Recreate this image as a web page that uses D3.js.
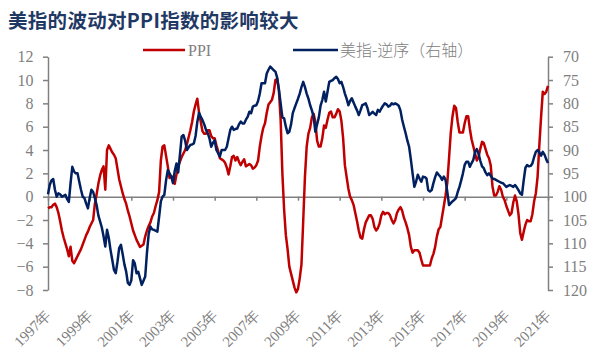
<!DOCTYPE html>
<html><head><meta charset="utf-8">
<script src="https://cdn.jsdelivr.net/npm/d3@7"></script>
<style>body{margin:0;background:#fff}svg{display:block}</style>
</head><body>
<svg id="c" width="591" height="354"></svg>
<script>
// ---- data (monthly, Aug 1997 .. Aug 2021) ----
const startYear = 1997, startMonth = 8;
const ppi = [
 -1.0,-0.9,-0.9,-0.7,-0.6,
 -0.9,-1.4,-2.1,-2.9,-3.5,-4.0,-4.5,-5.1,-4.3,-5.5,-5.7,-5.4,
 -5.1,-4.8,-4.5,-4.1,-3.7,-3.3,-3.0,-2.6,-2.3,-2.0,-0.6,0.2,
 1.1,1.8,2.3,2.6,0.6,4.0,4.4,4.1,3.8,3.6,3.3,2.4,
 1.5,0.9,0.3,-0.2,-0.6,-1.2,-1.7,-2.3,-2.9,-3.3,-3.7,-4.0,
 -4.3,-4.2,-4.1,-3.4,-2.9,-2.5,-2.2,-1.7,-1.4,-0.8,-0.3,0.4,
 3.1,4.3,4.4,3.5,2.6,1.6,1.7,1.7,1.1,1.9,2.6,3.0,
 3.4,3.7,4.0,4.5,5.1,5.7,6.4,7.3,7.9,8.4,7.2,6.4,
 5.6,5.4,5.4,5.7,5.7,5.2,5.0,5.0,4.4,3.9,3.3,3.2,
 3.1,2.9,2.5,1.9,2.6,3.4,3.5,3.1,3.4,3.0,2.7,3.0,
 3.2,2.6,2.7,2.8,2.7,2.4,2.5,2.7,3.1,4.3,5.2,5.9,
 6.3,7.2,7.9,8.1,8.3,8.9,10.0,10.1,9.1,6.6,2.0,-1.1,
 -3.3,-4.5,-6.0,-6.6,-7.2,-7.8,-8.2,-7.9,-7.0,-5.8,-2.1,1.7,
 4.3,5.4,5.9,6.8,7.1,6.4,4.8,4.3,4.3,5.0,6.1,5.9,
 6.6,7.2,7.3,6.8,6.8,7.1,7.5,7.3,6.5,5.0,2.7,1.7,
 0.7,0.0,-0.3,-0.7,-1.4,-2.1,-2.9,-3.5,-3.6,-2.8,-2.2,-1.9,
 -1.6,-1.6,-1.9,-2.6,-2.9,-2.7,-2.3,-1.6,-1.3,-1.5,-1.4,-1.4,
 -1.6,-2.0,-2.3,-2.0,-1.4,-1.1,-0.9,-1.2,-1.8,-2.2,-2.7,-3.3,
 -4.3,-4.8,-4.6,-4.6,-4.6,-4.8,-5.4,-5.9,-5.9,-5.9,-5.9,-5.9,
 -5.3,-4.9,-4.3,-3.4,-2.8,-2.6,-1.7,-0.8,0.1,1.2,3.3,5.5,
 6.9,7.8,7.6,6.4,5.5,5.5,5.5,6.3,6.9,6.9,5.8,4.9,
 4.3,3.7,3.1,3.4,4.1,4.7,4.6,4.1,3.6,3.3,2.7,0.9,
 0.1,0.1,0.4,0.9,0.6,0.0,-0.3,-0.8,-1.2,-1.6,-1.4,-0.5,
 0.1,-0.4,-1.5,-3.1,-3.7,-3.0,-2.4,-2.0,-2.1,-2.1,-1.5,-0.4,
 0.3,1.7,4.4,6.8,9.0,8.8,9.0,9.5
];
const usdIndex = [
 99.5,97.5,96.5,96.2,98.5,
 100.0,99.3,99.5,100.0,99.8,99.6,100.5,101.1,97.1,93.6,94.6,95.0,
 95.0,96.8,98.5,100.0,100.3,101.5,102.5,100.3,98.5,99.0,100.3,101.8,
 104.0,105.3,106.6,108.5,110.7,107.1,108.8,111.4,113.5,115.7,116.4,114.0,
 111.0,110.3,112.3,114.5,116.0,118.5,118.9,117.9,113.6,114.3,116.4,116.1,
 117.5,118.9,118.0,117.1,112.0,108.0,106.4,107.0,107.1,107.3,107.5,104.3,
 101.0,100.0,99.6,96.5,94.3,95.0,95.7,97.1,94.5,92.9,94.8,91.0,
 87.1,86.8,88.0,90.0,89.4,88.9,88.8,88.6,87.0,84.0,82.0,82.9,
 83.6,84.5,85.7,86.4,87.5,89.3,88.5,87.9,90.0,90.7,91.4,90.0,
 90.0,90.0,89.3,87.5,85.7,85.0,85.7,85.5,85.4,84.5,83.9,84.3,
 84.3,83.5,82.9,81.8,82.1,80.7,80.5,80.4,79.5,77.9,75.7,75.7,
 75.7,73.6,72.8,72.1,72.5,72.9,73.2,74.5,77.0,80.0,83.0,83.2,
 85.0,86.4,86.1,84.5,82.1,81.0,80.0,79.0,77.9,76.5,75.4,76.5,
 77.9,79.0,80.4,81.5,82.9,86.1,84.5,83.0,80.5,79.3,77.5,79.6,
 77.5,75.4,75.2,75.0,74.6,74.3,74.8,75.7,75.4,76.5,77.9,79.0,
 80.4,79.5,78.9,79.8,80.7,81.5,82.5,81.5,80.4,80.2,80.0,81.0,
 82.5,82.2,81.8,82.2,82.5,81.4,81.8,81.1,80.5,80.0,80.2,80.7,
 80.5,80.0,80.2,80.0,80.2,80.5,81.5,83.5,85.0,86.4,88.0,89.3,
 92.0,95.0,97.9,96.8,95.3,96.1,96.8,95.7,95.8,96.1,98.6,98.9,
 98.6,97.1,95.8,94.8,95.3,95.7,96.4,95.7,96.4,99.0,101.8,101.4,
 101.0,100.7,100.3,99.0,97.9,96.5,95.0,93.2,92.5,92.5,93.6,92.8,
 92.1,90.4,89.8,90.8,92.3,93.5,93.9,94.8,95.4,95.0,95.5,96.1,
 96.2,96.4,96.6,96.8,97.0,97.1,97.5,97.9,97.7,97.5,97.7,97.9,
 97.5,98.0,98.6,99.3,99.6,96.5,93.8,93.2,93.5,93.4,92.9,91.5,
 90.4,90.0,90.5,91.2,90.4,91.0,92.0,92.8
];
const xTickLabels = ["1997年","1999年","2001年","2003年","2005年","2007年","2009年","2011年","2013年","2015年","2017年","2019年","2021年"];
const leftTicks = [-8,-6,-4,-2,0,2,4,6,8,10,12];
const rightTicks = [70,75,80,85,90,95,100,105,110,115,120];
const title = "美指的波动对PPI指数的影响较大";
const seriesNames = ["PPI", "美指-逆序（右轴）"];

// ---- chart ----
const svg = d3.select("#c");
const gray = "#808080";
const red = "#C00000", navy = "#002060";
const n = ppi.length;
const x = d3.scaleLinear().domain([0, n - 1]).range([48, 548]);
const yL = d3.scaleLinear().domain([-8, 12]).range([290, 56.7]);
const yR = d3.scaleLinear().domain([70, 120]).range([56.7, 290]);

svg.append("text").attr("x", 8).attr("y", 28)
  .attr("font-family", "'Noto Sans CJK SC'").attr("font-weight", "bold")
  .attr("font-size", 19.5).attr("letter-spacing", 0.3).attr("fill", "#1F3864").text(title);

const tickFont = "'Liberation Serif', serif";

const gL = svg.append("g").attr("transform", "translate(48,0)")
  .call(d3.axisLeft(yL).tickValues(leftTicks).tickSize(5).tickSizeOuter(0).tickPadding(9.5));
const gR = svg.append("g").attr("transform", "translate(548,0)")
  .call(d3.axisRight(yR).tickValues(rightTicks).tickSize(5).tickSizeOuter(0).tickPadding(10));
[gL, gR].forEach(g => {
  g.select(".domain").attr("stroke", gray).attr("stroke-width", 1.5);
  g.selectAll(".tick line").attr("stroke", gray).attr("stroke-width", 1.5);
  g.selectAll(".tick text").attr("fill", gray).attr("font-family", tickFont).attr("font-size", 16);
});

// category axis along zero
const tickIdx = xTickLabels.map((d, i) => i * 24);
const gX = svg.append("g").attr("transform", `translate(0,${yL(0)})`)
  .call(d3.axisBottom(x).tickValues(tickIdx).tickSize(4).tickSizeOuter(0).tickFormat(""));
gX.select(".domain").attr("stroke", gray).attr("stroke-width", 1.5);
gX.selectAll(".tick line").attr("stroke", gray).attr("stroke-width", 1.5);

svg.append("g").selectAll("text").data(tickIdx).join("text")
  .attr("transform", d => `translate(${x(d) + 4},316) rotate(-45)`)
  .attr("text-anchor", "end")
  .attr("font-family", tickFont).attr("font-size", 15).attr("fill", gray)
  .text((d, i) => xTickLabels[i]);

// lines
const lineL = d3.line().x((d, i) => x(i)).y(d => yL(d));
const lineR = d3.line().x((d, i) => x(i)).y(d => yR(d));
svg.append("path").datum(ppi).attr("d", lineL).attr("fill", "none")
  .attr("stroke", red).attr("stroke-width", 2.5).attr("stroke-linejoin", "round");
svg.append("path").datum(usdIndex).attr("d", lineR).attr("fill", "none")
  .attr("stroke", navy).attr("stroke-width", 2.5).attr("stroke-linejoin", "round");

// legend
const leg = svg.append("g");
leg.append("line").attr("x1", 143).attr("x2", 185).attr("y1", 50).attr("y2", 50)
  .attr("stroke", red).attr("stroke-width", 2.5);
leg.append("text").attr("x", 188).attr("y", 56).attr("font-family", tickFont)
  .attr("font-size", 16).attr("fill", gray).text(seriesNames[0]);
leg.append("line").attr("x1", 293).attr("x2", 338).attr("y1", 50).attr("y2", 50)
  .attr("stroke", navy).attr("stroke-width", 2.5);
leg.append("text").attr("x", 340).attr("y", 56).attr("font-family", "'Noto Sans CJK SC'")
  .attr("font-weight", 300).attr("font-size", 16).attr("fill", gray).text(seriesNames[1]);
</script>
</body></html>
